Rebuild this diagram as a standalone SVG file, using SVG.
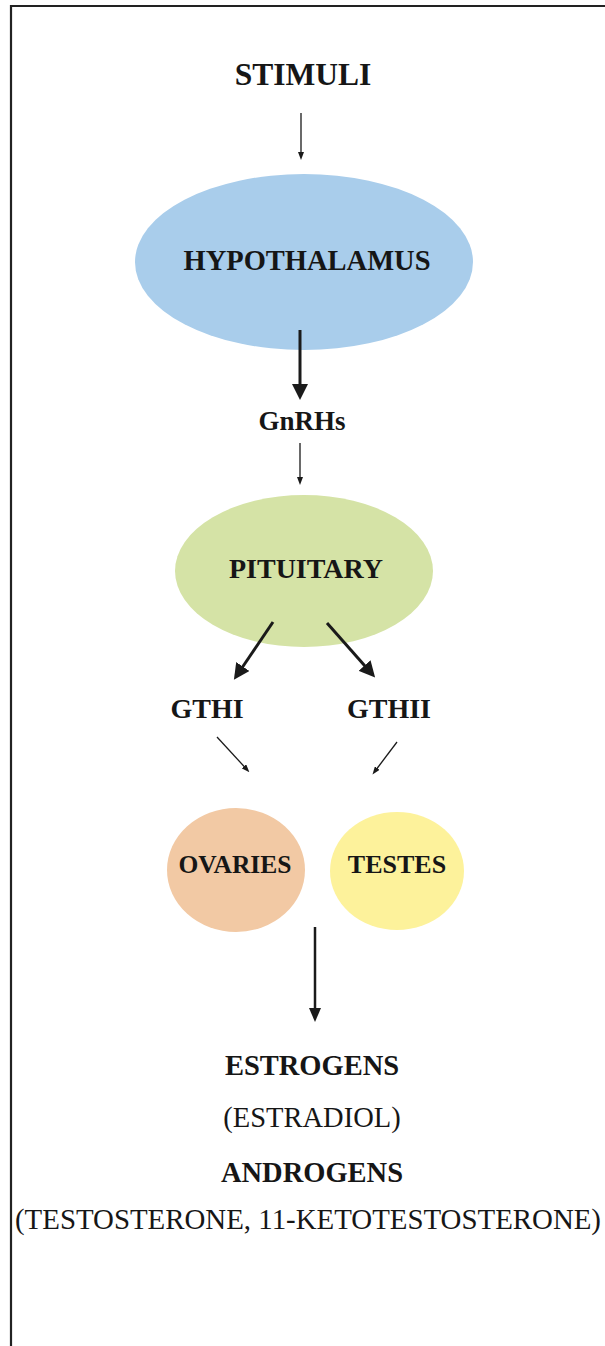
<svg xmlns="http://www.w3.org/2000/svg" width="605" height="1346" viewBox="0 0 605 1346">
<style>
.t{font-family:"Liberation Serif","Times New Roman",serif;fill:#161616;text-anchor:middle}
.b{font-weight:bold}
.thin{stroke:#1a1a1a;stroke-width:1.3;fill:none}
.thick{stroke:#1a1a1a;stroke-width:3;fill:none}
.mid{stroke:#1a1a1a;stroke-width:2.5;fill:none}
</style>
<defs>
<marker id="big" viewBox="0 0 16 16" markerWidth="16" markerHeight="16" refX="6" refY="8" orient="auto" markerUnits="userSpaceOnUse"><path d="M0,0 L16,8 L0,16 z" fill="#1a1a1a"/></marker>
<marker id="med" viewBox="0 0 14 12" markerWidth="14" markerHeight="12" refX="5" refY="6" orient="auto" markerUnits="userSpaceOnUse"><path d="M0,0 L14,6 L0,12 z" fill="#1a1a1a"/></marker>
<marker id="small" viewBox="0 0 8 6" markerWidth="8" markerHeight="6" refX="3" refY="3" orient="auto" markerUnits="userSpaceOnUse"><path d="M0,0 L8,3 L0,6 z" fill="#1a1a1a"/></marker>
</defs>
<rect width="605" height="1346" fill="#ffffff"/>
<path d="M11,1346 L11,6 L605,6" stroke="#222" stroke-width="2.2" fill="none"/>
<g id="stimuli"><text class="t b" x="303" y="85" font-size="31.5">STIMULI</text></g>
<g id="hypothalamus"><ellipse cx="304" cy="262" rx="169" ry="88" fill="#a9cdeb"/><text class="t b" x="307" y="270" font-size="28.5">HYPOTHALAMUS</text></g>
<g id="gnrhs"><text class="t b" x="302" y="430" font-size="27">GnRHs</text></g>
<g id="pituitary"><ellipse cx="304" cy="571" rx="129" ry="76" fill="#d5e3a6"/><text class="t b" x="306" y="578" font-size="28">PITUITARY</text></g>
<g id="gthi"><text class="t b" x="207" y="718" font-size="28">GTHI</text></g>
<g id="gthii"><text class="t b" x="389" y="718" font-size="28">GTHII</text></g>
<g id="ovaries"><ellipse cx="236" cy="870" rx="69" ry="62" fill="#f2c9a4"/><text class="t b" x="235" y="873" font-size="25.5">OVARIES</text></g>
<g id="testes"><ellipse cx="397" cy="871" rx="67" ry="59" fill="#fdf29b"/><text class="t b" x="397" y="873" font-size="26">TESTES</text></g>
<g id="hormones">
<text class="t b" x="312" y="1075" font-size="28.5">ESTROGENS</text>
<text class="t" x="312" y="1127" font-size="28.5">(ESTRADIOL)</text>
<text class="t b" x="312" y="1182" font-size="28.5">ANDROGENS</text>
<text class="t" x="308" y="1229" font-size="29" textLength="586" lengthAdjust="spacingAndGlyphs">(TESTOSTERONE, 11-KETOTESTOSTERONE)</text>
</g>
<g id="connectors">
<line class="thin" x1="301" y1="113" x2="301" y2="155" marker-end="url(#small)"/>
<line class="thick" x1="300" y1="330" x2="300" y2="390" marker-end="url(#big)"/>
<line class="thin" x1="300" y1="443" x2="300" y2="480" marker-end="url(#small)"/>
<line class="thick" x1="273" y1="622" x2="239.5" y2="671.5" marker-end="url(#big)"/>
<line class="thick" x1="327" y1="623" x2="368.5" y2="670" marker-end="url(#big)"/>
<line class="thin" x1="217" y1="737" x2="246" y2="768.5" marker-end="url(#small)"/>
<line class="thin" x1="397" y1="742" x2="375.5" y2="770.5" marker-end="url(#small)"/>
<line class="mid" x1="315" y1="927" x2="315" y2="1013" marker-end="url(#med)"/>
</g>
</svg>
